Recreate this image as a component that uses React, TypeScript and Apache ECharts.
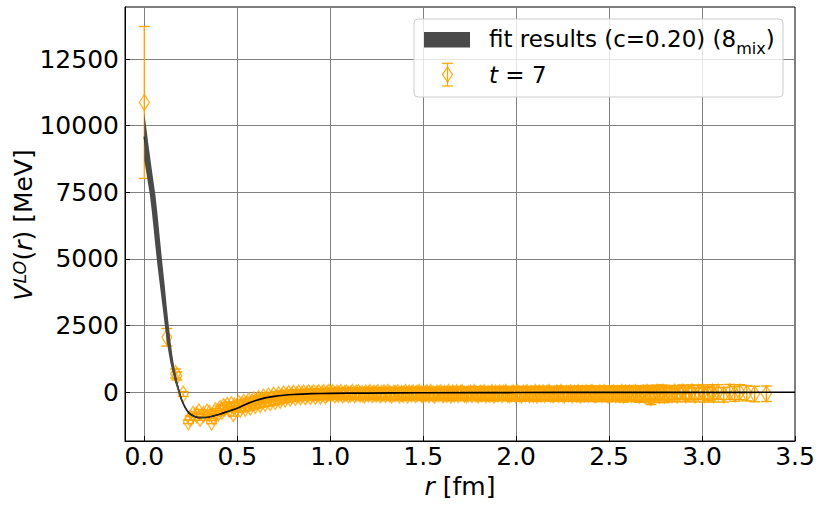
import React, { useEffect, useRef } from "react";
import * as echarts from "echarts";

const ORANGE = "#ffa500";
const BAND = "#4a4a4a";
const FONT = "DejaVu Sans";

const xTicks = [0, 0.5, 1, 1.5, 2, 2.5, 3, 3.5];
const yTicks = [0, 2500, 5000, 7500, 10000, 12500];
const X_MIN = -0.104;
const X_MAX = 3.5;
const Y_MIN = -1832;
const Y_MAX = 14452;

// fit band (r in fm, V in MeV)
const fitR = [0, 0.01, 0.02, 0.03, 0.04, 0.05, 0.06, 0.07, 0.08, 0.09, 0.1, 0.11, 0.12, 0.13, 0.14, 0.15, 0.16, 0.17, 0.18, 0.19, 0.2, 0.22, 0.24, 0.26, 0.28, 0.3, 0.32, 0.34, 0.36, 0.38, 0.4, 0.43, 0.46, 0.5, 0.55, 0.6, 0.65, 0.7, 0.75, 0.8, 0.9, 1.0, 1.2, 1.5, 2.0, 2.5, 3.0, 3.5];
const fitUpper = [10470, 9950, 9400, 8880, 8360, 7870, 7370, 6730, 6020, 5320, 4640, 3980, 3250, 2600, 1950, 1420, 980, 620, 320, 40, -230, -560, -760, -865, -925, -945, -945, -930, -905, -868, -828, -762, -692, -596, -440, -310, -215, -155, -115, -88, -58, -44, -32, -22, -13, -8, -5, -3];
const fitLower = [8700, 8260, 7830, 7390, 6800, 6120, 5440, 4790, 4220, 3650, 3090, 2500, 1950, 1500, 1100, 800, 520, 280, 70, -130, -320, -600, -790, -890, -950, -970, -968, -950, -922, -885, -843, -776, -704, -606, -444, -312, -216, -155, -115, -88, -58, -44, -32, -22, -13, -8, -5, -3];

// lattice data, t = 7 : [r, V, error]
const coreData = [
  [0.0, 10870, 2850], [0.121, 2060, 330], [0.168, 700, 170], [0.175, 610, 150], [0.209, -70, 90],
  [0.237, -1110, 70], [0.246, -975, 80], [0.262, -830, 90], [0.282, -860, 80], [0.293, -740, 90],
  [0.3, -985, 70], [0.318, -840, 80], [0.337, -745, 80], [0.35, -800, 90], [0.362, -1120, 60],
  [0.371, -920, 80], [0.383, -700, 90], [0.398, -790, 90], [0.407, -610, 90], [0.418, -720, 90],
  [0.425, -545, 90], [0.434, -580, 100], [0.446, -500, 100], [0.458, -640, 100], [0.468, -470, 100],
  [0.479, -800, 100], [0.485, -520, 100], [0.497, -600, 100], [0.508, -430, 100], [0.516, -640, 110],
  [0.524, -500, 100], [0.535, -380, 110], [0.543, -600, 110], [0.552, -450, 110], [0.561, -330, 110],
  [0.57, -560, 110], [0.579, -400, 110], [0.588, -290, 110], [0.597, -500, 110], [0.605, -350, 110],
  [0.614, -240, 110], [0.623, -460, 110], [0.632, -310, 120], [0.641, -190, 120], [0.65, -420, 120],
  [0.659, -270, 120], [0.668, -140, 120], [0.677, -390, 120], [0.686, -240, 120], [0.695, -120, 120],
  [0.704, -350, 120], [0.713, -210, 120], [0.722, -100, 120], [0.731, -300, 120], [0.74, -170, 125],
  [0.749, -70, 125], [0.758, -260, 125], [0.767, -140, 125], [0.776, -55, 130], [0.785, -220, 130],
  [0.794, -120, 130], [0.803, -45, 130], [0.812, -200, 130], [0.821, -100, 130], [0.83, -40, 130],
  [0.839, -180, 130], [0.848, -90, 135], [0.857, -35, 135], [0.866, -170, 135], [0.875, -80, 135],
  [0.884, -30, 140], [0.893, -160, 140], [0.902, -70, 140], [0.911, -25, 140], [0.92, -150, 140],
  [0.929, -65, 140], [0.938, -20, 145], [0.947, -140, 145], [0.956, -60, 145], [0.965, -15, 145],
  [0.974, -130, 150], [0.983, -55, 150], [0.992, -10, 150],
];

const plateauData = [
  [1.004, -60, 170], [1.013, -20, 170], [1.025, -95, 175], [1.036, -40, 170], [1.044, -75, 175], [1.057, -15, 170], [1.066, -105, 175], [1.078, -50, 175],
  [1.087, -30, 175], [1.098, -85, 175], [1.11, -65, 180], [1.119, -10, 175], [1.131, -100, 180], [1.14, -45, 180], [1.152, -25, 180], [1.161, -80, 180],
  [1.173, -55, 180], [1.184, -110, 185], [1.192, -35, 180], [1.205, -70, 185], [1.214, -15, 185], [1.226, -90, 185], [1.235, -45, 185], [1.247, -65, 185],
  [1.256, -20, 185], [1.268, -100, 190], [1.277, -55, 185], [1.289, -30, 190], [1.298, -85, 190], [1.31, -10, 190], [1.321, -70, 190], [1.33, -105, 190],
  [1.342, -40, 190], [1.351, -60, 195], [1.363, -20, 190], [1.372, -95, 195], [1.384, -50, 195], [1.393, -75, 195], [1.405, -15, 195], [1.416, -110, 195],
  [1.425, -35, 195], [1.437, -65, 200], [1.446, -25, 195], [1.458, -90, 200], [1.467, -45, 200], [1.479, -10, 200], [1.49, -80, 200], [1.499, -100, 200],
  [1.511, -55, 200], [1.52, -30, 200], [1.532, -85, 205], [1.541, -15, 200], [1.553, -70, 205], [1.562, -105, 205], [1.574, -40, 205], [1.585, -60, 205],
  [1.594, -20, 205], [1.606, -95, 205], [1.615, -50, 205], [1.627, -75, 210], [1.636, -10, 205], [1.648, -110, 210], [1.659, -35, 210], [1.668, -65, 210],
  [1.68, -25, 210], [1.689, -90, 210], [1.701, -45, 210], [1.71, -15, 210], [1.722, -80, 215], [1.733, -100, 215], [1.742, -55, 210], [1.754, -30, 215],
  [1.763, -85, 215], [1.775, -10, 215], [1.784, -70, 215], [1.796, -105, 215], [1.807, -40, 215], [1.816, -60, 220], [1.828, -20, 215], [1.837, -95, 220],
  [1.849, -50, 220], [1.858, -75, 220], [1.87, -15, 220], [1.881, -110, 220], [1.89, -35, 220], [1.902, -65, 220], [1.911, -25, 225], [1.923, -90, 220],
  [1.932, -45, 225], [1.944, -10, 225], [1.955, -80, 225], [1.964, -100, 225], [1.976, -55, 225], [1.985, -30, 225], [1.997, -85, 225], [2.006, -15, 230],
  [2.018, -70, 225], [2.029, -105, 230], [2.038, -40, 230], [2.05, -60, 230], [2.059, -20, 230], [2.071, -95, 230], [2.08, -50, 230], [2.092, -75, 235],
  [2.103, -10, 230], [2.112, -110, 235], [2.124, -35, 235], [2.133, -65, 235], [2.145, -25, 235], [2.154, -90, 235], [2.166, -45, 235], [2.177, -15, 235],
  [2.186, -80, 240], [2.198, -100, 235], [2.207, -55, 240], [2.219, -30, 240], [2.228, -85, 240], [2.24, -10, 240], [2.251, -70, 240], [2.26, -105, 240],
  [2.272, -40, 240], [2.281, -60, 245], [2.293, -20, 240], [2.302, -95, 245], [2.314, -50, 245], [2.325, -75, 245], [2.334, -15, 245], [2.346, -110, 245],
  [2.355, -35, 245], [2.367, -65, 245], [2.376, -25, 250], [2.388, -90, 245], [2.399, -45, 250], [2.408, -10, 250], [2.42, -80, 250], [2.429, -100, 250],
  [2.441, -55, 250], [2.45, -30, 250], [2.462, -85, 250], [2.473, -15, 250], [2.482, -70, 255], [2.494, -105, 250], [2.503, -40, 255], [2.515, -60, 255],
  [2.524, -20, 255], [2.536, -95, 255], [2.547, -50, 255], [2.556, -75, 255], [2.568, -10, 255], [2.577, -110, 260], [2.589, -35, 255], [2.598, -65, 260],
  [2.61, -25, 260], [2.621, -90, 260], [2.63, -45, 260], [2.642, -15, 260], [2.651, -80, 260], [2.663, -120, 260], [2.672, -55, 260], [2.684, -30, 265],
  [2.695, -85, 265], [2.704, -10, 265], [2.716, -140, 265], [2.725, -200, 265], [2.737, -40, 265], [2.746, -100, 265], [2.758, 0, 265], [2.769, -120, 270],
  [2.778, -30, 270], [2.79, 0, 270], [2.799, -120, 270], [2.811, -60, 270],
];

const tailData = [
  [2.823, -40, 240], [2.838, -100, 250], [2.852, 0, 250], [2.867, -110, 250], [2.881, -20, 250], [2.896, 10, 260],
  [2.912, -100, 260], [2.929, -30, 260], [2.945, 10, 260], [2.962, -105, 260], [2.981, -10, 265], [3.005, 5, 270],
  [3.012, -100, 270], [3.03, -50, 270], [3.056, 10, 270], [3.063, -100, 270], [3.086, 5, 275], [3.117, -95, 275],
  [3.149, 10, 280], [3.176, -60, 280], [3.203, 0, 280], [3.241, -40, 285], [3.283, -70, 290], [3.346, -60, 290],
];

export default function App() {
  const ref = useRef<HTMLDivElement>(null);

  useEffect(() => {
    document.body.style.margin = "0";
    const chart = echarts.init(ref.current!, null, { renderer: "svg" });
    const points = [...coreData, ...plateauData, ...tailData];
    const fitCenter = fitR.map((r, i) => [r, (fitUpper[i] + fitLower[i]) / 2]);

    const labelStyle = { fontSize: 25, color: "#000", fontFamily: FONT };

    const option: any = {
      animation: false,
      grid: {
        left: 125,
        right: 26,
        top: 7,
        bottom: 66,
        show: true,
        borderColor: "#000",
        borderWidth: 1,
        backgroundColor: "transparent",
      },
      xAxis: {
        type: "value",
        min: X_MIN,
        max: X_MAX,
        axisLine: { show: true, onZero: false, lineStyle: { color: "#000", width: 1 } },
        axisTick: { show: true, inside: true, length: 5, customValues: xTicks, lineStyle: { color: "#000", width: 1 } },
        axisLabel: {
          ...labelStyle,
          customValues: xTicks,
          margin: 3,
          formatter: (v: number) => v.toFixed(1),
        },
        splitLine: { show: true, lineStyle: { color: "#808080", width: 1 } },
        name: "{i|r}{n| [fm]}",
        nameLocation: "middle",
        nameGap: 24,
        nameTextStyle: {
          ...labelStyle,
          rich: {
            i: { fontSize: 25, fontFamily: FONT, fontStyle: "italic", color: "#000" },
            n: { fontSize: 25, fontFamily: FONT, color: "#000" },
          },
        },
      },
      yAxis: {
        type: "value",
        min: Y_MIN,
        max: Y_MAX,
        axisLine: { show: true, onZero: false, lineStyle: { color: "#000", width: 1 } },
        axisTick: { show: true, inside: true, length: 5, customValues: yTicks, lineStyle: { color: "#000", width: 1 } },
        axisLabel: {
          ...labelStyle,
          customValues: yTicks,
          margin: 6,
          formatter: (v: number) => String(v),
        },
        splitLine: { show: true, lineStyle: { color: "#808080", width: 1 } },
      },
      series: [
        {
          type: "custom",
          name: "errbars",
          z: 2,
          clip: true,
          data: points,
          encode: { x: 0, y: 1 },
          renderItem: (params: any, api: any) => {
            const r = api.value(0);
            const v = api.value(1);
            const e = api.value(2);
            const top = api.coord([r, v + e]);
            const bot = api.coord([r, v - e]);
            const cap = 5.5;
            const st = { stroke: ORANGE, lineWidth: 1.4 };
            return {
              type: "group",
              children: [
                { type: "line", shape: { x1: top[0], y1: top[1], x2: bot[0], y2: bot[1] }, style: st },
                { type: "line", shape: { x1: top[0] - cap, y1: top[1], x2: top[0] + cap, y2: top[1] }, style: st },
                { type: "line", shape: { x1: bot[0] - cap, y1: bot[1], x2: bot[0] + cap, y2: bot[1] }, style: st },
              ],
            };
          },
        },
        {
          type: "scatter",
          name: "t=7",
          z: 3,
          data: points.map((p) => [p[0], p[1]]),
          symbol: "diamond",
          symbolSize: [10, 16],
          itemStyle: { color: "rgba(0,0,0,0)", borderColor: ORANGE, borderWidth: 1.4 },
        },
        {
          type: "line",
          name: "fit center",
          z: 4,
          data: fitCenter,
          showSymbol: false,
          smooth: 0.25,
          lineStyle: { color: "#000", width: 1.7 },
        },
        {
          type: "custom",
          name: "fit band",
          z: 5,
          clip: true,
          data: [[0, 0]],
          encode: { x: 0, y: 1 },
          renderItem: (params: any, api: any) => {
            const pts: number[][] = [];
            for (let i = 0; i < fitR.length; i++) pts.push(api.coord([fitR[i], fitUpper[i]]));
            for (let i = fitR.length - 1; i >= 0; i--) pts.push(api.coord([fitR[i], fitLower[i]]));
            return { type: "polygon", shape: { points: pts }, style: { fill: BAND } };
          },
        },
      ],
      graphic: [
        {
          type: "text",
          x: 24,
          y: 225,
          rotation: Math.PI / 2,
          style: {
            text: "{i|V}{s|LO}{n|(}{i|r}{n|) [MeV]}",
            align: "center",
            verticalAlign: "middle",
            fill: "#000",
            rich: {
              i: { fontSize: 25, fontFamily: FONT, fontStyle: "italic", lineHeight: 26, verticalAlign: "top", fill: "#000" },
              n: { fontSize: 25, fontFamily: FONT, lineHeight: 26, verticalAlign: "top", fill: "#000" },
              s: { fontSize: 17.5, fontFamily: FONT, fontStyle: "italic", lineHeight: 10, verticalAlign: "top", fill: "#000" },
            },
          },
        },
        {
          type: "rect",
          shape: { x: 414, y: 19, width: 369, height: 78, r: 4 },
          style: { fill: "rgba(255,255,255,0.8)", stroke: "#cccccc", lineWidth: 1 },
          z: 10,
        },
        {
          type: "rect",
          shape: { x: 424, y: 32, width: 46, height: 15.5 },
          style: { fill: BAND },
          z: 11,
        },
        {
          type: "text",
          x: 489,
          y: 40,
          z: 11,
          style: {
            text: "{n|fit results (c=0.20) (8}{b|mix}{n|)}",
            align: "left",
            verticalAlign: "middle",
            fill: "#000",
            rich: {
              n: { fontSize: 23, fontFamily: FONT, lineHeight: 26, verticalAlign: "top", fill: "#000" },
              b: { fontSize: 16, fontFamily: FONT, lineHeight: 14, padding: [13, 0, 0, 0], verticalAlign: "top", fill: "#000" },
            },
          },
        },
        { type: "line", z: 11, shape: { x1: 447.5, y1: 63.3, x2: 447.5, y2: 86 }, style: { stroke: ORANGE, lineWidth: 1.2 } },
        { type: "line", z: 11, shape: { x1: 442, y1: 63.3, x2: 453, y2: 63.3 }, style: { stroke: ORANGE, lineWidth: 1.2 } },
        { type: "line", z: 11, shape: { x1: 442, y1: 86, x2: 453, y2: 86 }, style: { stroke: ORANGE, lineWidth: 1.2 } },
        {
          type: "polygon",
          z: 11,
          shape: { points: [[447.5, 67], [452.5, 74.6], [447.5, 82.2], [442.5, 74.6]] },
          style: { fill: "none", stroke: ORANGE, lineWidth: 1.1 },
        },
        {
          type: "text",
          x: 489,
          y: 75,
          z: 11,
          style: {
            text: "{i|t}{n| = 7}",
            align: "left",
            verticalAlign: "middle",
            fill: "#000",
            rich: {
              i: { fontSize: 23, fontFamily: FONT, fontStyle: "italic", fill: "#000" },
              n: { fontSize: 23, fontFamily: FONT, fill: "#000" },
            },
          },
        },
      ],
    };

    chart.setOption(option);
    return () => chart.dispose();
  }, []);

  return (
    <div
      ref={ref}
      style={{ position: "fixed", left: 0, top: 0, width: 821, height: 507, background: "#fff" }}
    />
  );
}
